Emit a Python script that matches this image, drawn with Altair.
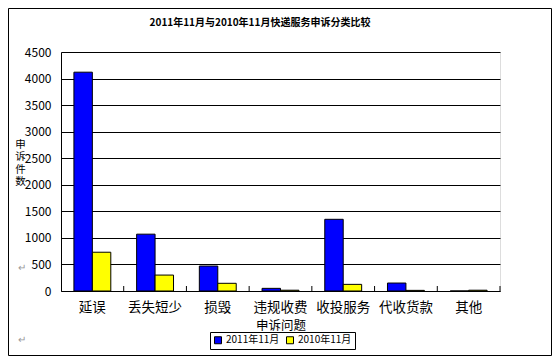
import altair as alt
import pandas as pd

categories = ["延误", "丢失短少", "损毁", "违规收费", "收投服务", "代收货款", "其他"]
series = ["2011年11月", "2010年11月"]
v2011 = [4120, 1070, 470, 50, 1350, 150, 0]
v2010 = [730, 300, 145, 15, 125, 12, 15]
colors = ["#0000FF", "#FFFF00"]
y_ticks = list(range(0, 4501, 500))
title_text = "2011年11月与2010年11月快递服务申诉分类比较"

rows = []
for c, a, b in zip(categories, v2011, v2010):
    rows.append({"category": c, "series": series[0], "value": a})
    rows.append({"category": c, "series": series[1], "value": b})
df = pd.DataFrame(rows)
cat_df = pd.DataFrame({"category": categories})
one = pd.DataFrame({"k": [0]})

W, H = 439, 239
FONT = "Noto Sans CJK SC"

border = alt.Chart(one).mark_rect(fillOpacity=0, stroke="black", strokeWidth=1).encode(
    x=alt.value(-52.5), x2=alt.value(490.5), y=alt.value(-43.5), y2=alt.value(303.5)
)

title = alt.Chart(one).mark_text(text=title_text, fontSize=10, fontWeight="bold", font=FONT,
                                 color="black", align="center", baseline="middle").encode(
    x=alt.value(199), y=alt.value(-29)
)

bars = alt.Chart(df).mark_bar(stroke="black", strokeWidth=1).encode(
    x=alt.X("category:N", sort=categories,
            scale=alt.Scale(paddingInner=0, paddingOuter=0),
            axis=alt.Axis(title="申诉问题", labelAngle=0, ticks=False, domainColor="black",
                          labelFontSize=13.5, labelPadding=9, titleFontSize=12.5, titlePadding=6,
                          labelColor="black", titleColor="black", titleFontWeight="normal",
                          labelFont=FONT, titleFont=FONT)),
    xOffset=alt.XOffset("series:N", sort=series,
                        scale=alt.Scale(domain=series, paddingInner=0, paddingOuter=0.7)),
    y=alt.Y("value:Q", scale=alt.Scale(domain=[0, 4500]),
            axis=alt.Axis(values=y_ticks, format="d", title=["申", "诉", "件", "数"], titleAngle=0,
                          titleX=-41, titleY=87, titleAlign="center", titleBaseline="top",
                          titleLineHeight=12.5, titleFontSize=10.5, titleFontWeight="normal",
                          titleColor="black", titleFont=FONT,
                          ticks=False, labelPadding=10, labelFontSize=12, labelColor="black",
                          labelFont=FONT, domainColor="black", grid=True, gridColor="black",
                          gridOpacity=1)),
    color=alt.Color("series:N", sort=series,
                    scale=alt.Scale(domain=series, range=colors),
                    legend=alt.Legend(title=None, orient="none", legendX=149, legendY=280,
                                      direction="horizontal", symbolType="square", symbolSize=49,
                                      symbolStrokeColor="black", symbolStrokeWidth=1,
                                      labelFontSize=10, labelFont=FONT, labelColor="black",
                                      strokeColor="black", fillColor="white", padding=3,
                                      columnPadding=4, labelOffset=3)),
)

ticks = alt.Chart(cat_df).mark_rule(color="black", strokeWidth=1).encode(
    x=alt.X("category:N", sort=categories, bandPosition=1),
    y=alt.value(H - 5), y2=alt.value(H),
)

pm1 = alt.Chart(one).mark_text(text="↵", color="#999999", fontSize=10).encode(
    x=alt.value(-39), y=alt.value(216)
)
pm2 = alt.Chart(one).mark_text(text="↵", color="#999999", fontSize=10).encode(
    x=alt.value(-39), y=alt.value(288)
)

chart = alt.layer(border, title, bars, ticks, pm1, pm2).properties(
    width=W, height=H,
    autosize=alt.AutoSizeParams(type="none"),
    padding={"left": 53, "top": 44, "right": 52, "bottom": 65},
).configure_view(stroke=None).configure(background="white")

chart.save("out.html", embed_options={"renderer": "svg", "actions": False})
